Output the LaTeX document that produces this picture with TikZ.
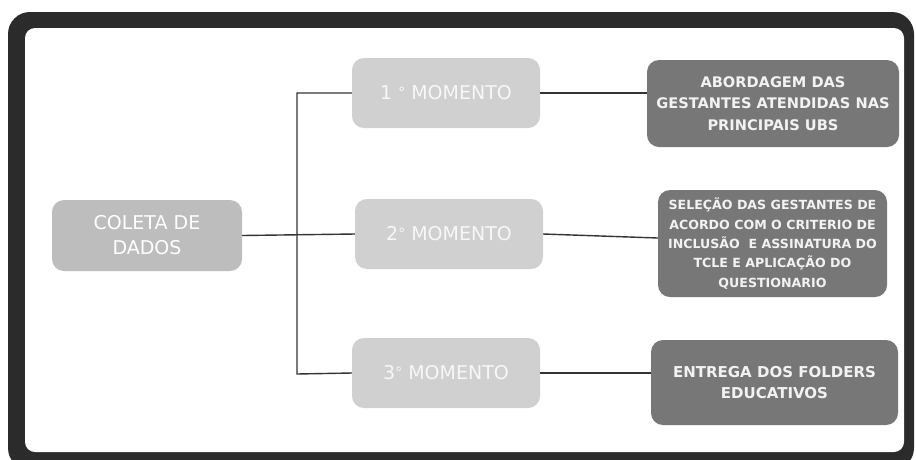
\documentclass[tikz,border=0pt]{standalone}
\usepackage{fontspec}
\setmainfont{DejaVu Sans}
\definecolor{framec}{HTML}{2B2B2B}
\definecolor{leftc}{HTML}{BDBDBD}
\definecolor{midc}{HTML}{D0D0D0}
\definecolor{rightc}{HTML}{777777}
\definecolor{linec}{HTML}{333333}
\tikzset{
  leftbox/.style={fill=leftc, rounded corners=12pt, text=white, align=center, inner sep=0pt,
    font=\fontsize{19}{25}\selectfont},
  midbox/.style={fill=midc, rounded corners=12pt, text=white!97!black, align=center, inner sep=0pt,
    minimum width=188pt, minimum height=70pt, font=\fontsize{19}{25}\selectfont},
  rightbox/.style={fill=rightc, rounded corners=12pt, text=white!95!black, align=center, inner sep=0pt,
    font=\bfseries},
  conn/.style={draw=linec, line width=1.4pt}
}
\newcommand{\degsym}{\raisebox{0.25ex}{\fontsize{14}{14}\selectfont °}}
\begin{document}
\begin{tikzpicture}[x=1pt,y=-1pt]
\useasboundingbox (0,0) rectangle (916,459);
\fill[white] (0,0) rectangle (916,459);
% frame
\fill[framec, rounded corners=22pt] (8,12) rectangle (914,470);
\fill[white, rounded corners=10pt] (25,28) rectangle (904,452);
% nodes
\node[leftbox, minimum width=190pt, minimum height=71pt] (c) at (147,235.5) {COLETA DE\\DADOS};
\node[midbox] (m1) at (446,93) {1 \degsym\ MOMENTO};
\node[midbox] (m2) at (449,234) {2\degsym\ MOMENTO};
\node[midbox] (m3) at (446,373) {3\degsym\ MOMENTO};
\node[rightbox, minimum width=252pt, minimum height=87pt, font=\fontsize{14.6}{21.5}\selectfont\bfseries] (r1) at (773,103.5)
  {ABORDAGEM DAS\\GESTANTES ATENDIDAS NAS\\PRINCIPAIS UBS};
\node[rightbox, minimum width=229pt, minimum height=107pt, font=\fontsize{12.6}{19.3}\selectfont\bfseries] (r2) at (772.5,243.5)
  {SELEÇÃO DAS GESTANTES DE\\ACORDO COM O CRITERIO DE\\INCLUSÃO\ \ E ASSINATURA DO\\TCLE E APLICAÇÃO DO\\QUESTIONARIO};
\node[rightbox, minimum width=247pt, minimum height=85pt, font=\fontsize{15}{21}\selectfont\bfseries] (r3) at (774.5,382.5)
  {ENTREGA DOS FOLDERS\\EDUCATIVOS};
% connectors
\coordinate (bt) at (297,93);
\coordinate (bb) at (297,374);
\draw[conn] (m1.west) -- (bt) -- (bb) -- (m3.west);
\draw[conn] (c.east) -- (m2.west);
\draw[conn] (m1.east) -- (m1.east -| r1.west);
\draw[conn] (m2.east) -- ([yshift=5.5pt]r2.west);
\draw[conn] (m3.east) -- (m3.east -| r3.west);
\end{tikzpicture}
\end{document}
